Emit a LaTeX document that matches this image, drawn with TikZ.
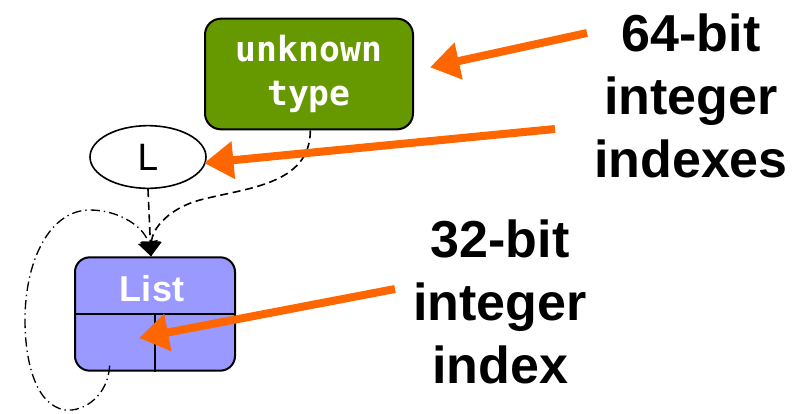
\documentclass[tikz,border=0pt]{standalone}
\usepackage{fontspec}
\setmainfont{Liberation Sans}
\newfontfamily\monofont{DejaVu Sans Mono}
\newfontfamily\ellfont{DejaVu Sans}
\usetikzlibrary{shapes.geometric,arrows.meta}
\definecolor{unkgreen}{RGB}{102,153,0}
\definecolor{listblue}{RGB}{153,153,255}
\definecolor{pointerorange}{RGB}{255,102,0}

\begin{document}
\begin{tikzpicture}[x=0.75pt,y=-0.75pt]

%
% Styles
%
\tikzstyle{typebox}  = [rectangle,rounded corners=12pt,draw=black,line width=1.5pt,fill=unkgreen,text=white,minimum width=156pt,minimum height=83pt,align=center,font=\monofont\bfseries\fontsize{26}{33}\selectfont]
\tikzstyle{listbox}  = [rectangle,rounded corners=11pt,draw=black,line width=1.5pt,fill=listblue,minimum width=120pt,minimum height=85pt]
\tikzstyle{letter}   = [ellipse,draw=black,line width=1.2pt,fill=white,minimum width=87pt,minimum height=47pt,inner sep=0pt,font=\ellfont\fontsize{27}{30}\selectfont]
\tikzstyle{note}     = [align=center,font=\bfseries\fontsize{39}{47}\selectfont]

\tikzstyle{edge}     = [-{Triangle[length=11pt,width=15pt]},dash pattern=on 6pt off 3.5pt,line width=1.2pt]
\tikzstyle{selfedge} = [-{Triangle[length=11pt,width=15pt]},dash pattern=on 7pt off 3pt on 1pt off 3pt,line width=1pt]
\tikzstyle{pointer}  = [-{Triangle[length=22pt,width=27pt]},draw=pointerorange,line width=6pt]

\useasboundingbox (0,0) rectangle (808,414);

\node[typebox]  (unk)     at (309, 74)  {unknown\\type};
\node[letter]   (ell)     at (148,157)  {L};
\node[listbox]  (list)    at (155,314)  {};
\node[text=white,font=\bfseries\fontsize{27}{30}\selectfont] (listlbl) at (152,289) {List};

\draw[line width=1.5pt] (list.west) -- (list.east);
\draw[line width=1.5pt] (list.center) -- (list.south);

\node[note] (n64) at (691, 96)  {64-bit\\integer\\indexes};
\node[note] (n32) at (500,302)  {32-bit\\integer\\index};

\coordinate (hub) at ([xshift=-3pt]list.north);
\coordinate (a1)  at (587, 33);
\coordinate (a2)  at (555,129);
\coordinate (a3)  at (395,289);

\draw[edge] (ell.south) -- (hub);
\draw[edge] ([xshift=1pt]unk.south) .. controls +(0,55) and (245,188) .. (200,200)
            .. controls (170,208) and (152,228) .. (hub);
\draw[selfedge] ([xshift=-34pt,yshift=4.5pt]list.south) .. controls (108,395) and (85,412) .. (65,410)
            .. controls (35,405) and (25,360) .. (25,320)
            .. controls (25,260) and (50,210) .. (90,210)
            .. controls (120,210) and (145,228) .. (hub);

\draw[pointer] (a1) -- ([xshift=12pt,yshift=5pt]unk.east);
\draw[pointer] (a2) -- ([xshift=-2pt,yshift=-4.5pt]ell.east);
\draw[pointer] (a3) -- ([xshift=-12pt,yshift=-18pt]list.center);

\end{tikzpicture}
\end{document}
